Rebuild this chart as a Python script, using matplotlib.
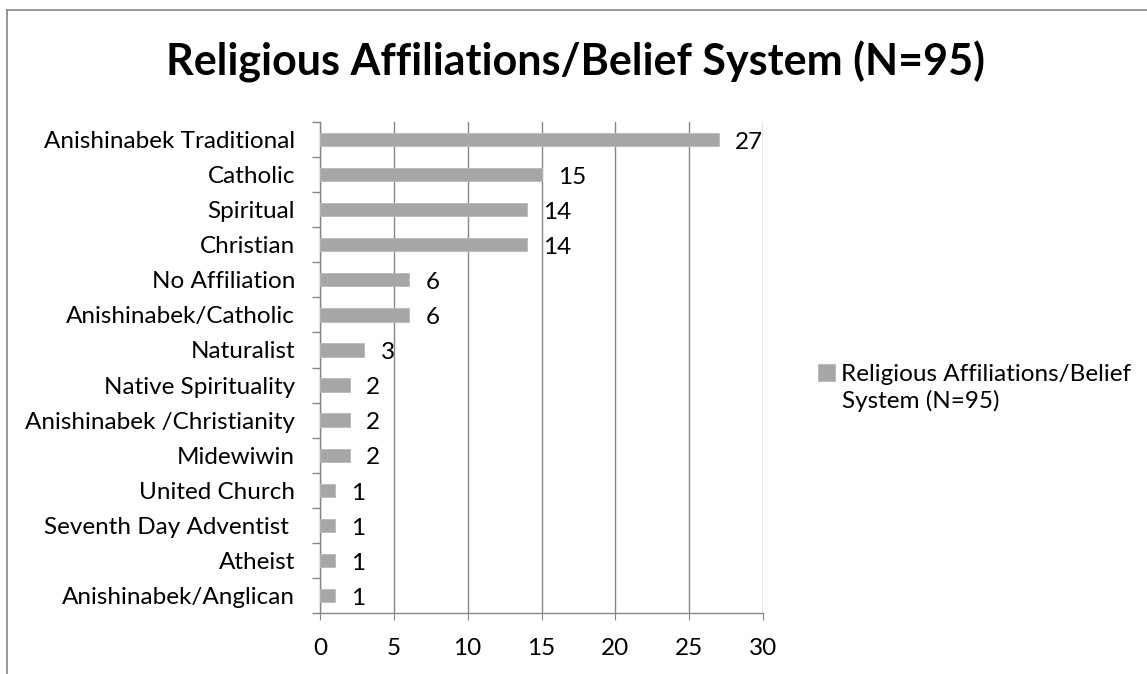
import matplotlib.pyplot as plt
from matplotlib.lines import Line2D
import numpy as np

plt.rcParams['font.family'] = ['Lato', 'DejaVu Sans']

# data, top to bottom as shown
categories = ['Anishinabek Traditional', 'Catholic', 'Spiritual', 'Christian',
              'No Affiliation', 'Anishinabek/Catholic', 'Naturalist',
              'Native Spirituality', 'Anishinabek /Christianity', 'Midewiwin',
              'United Church', 'Seventh Day Adventist ', 'Atheist',
              'Anishinabek/Anglican']
counts = [27, 15, 14, 14, 6, 6, 3, 2, 2, 2, 1, 1, 1, 1]
series_lines = ['Religious Affiliations/Belief', 'System (N=95)']
x_ticks = [0, 5, 10, 15, 20, 25, 30]

bar_col = '#a6a6a6'
axis_col = '#868686'
fs = 17.5

fig = plt.figure(figsize=(11.47, 6.74), dpi=100)
ax = fig.add_axes([320/1147, 1-613/674, 443/1147, 491/674])

ypos = np.arange(len(categories))[::-1]
bars = ax.barh(ypos, counts, height=0.38, color=bar_col, edgecolor='#b8b8b8',
               linewidth=0.6, zorder=3)

for y, v in zip(ypos, counts):
    ax.annotate(str(v), (v, y), xytext=(12, -2), textcoords='offset points',
                ha='left', va='center', fontsize=fs)

ax.set_xlim(0, 30)
ax.set_ylim(-0.5, len(categories) - 0.5)
ax.set_xticks(x_ticks)
ax.set_yticks(ypos)
ax.set_yticklabels(categories)
ax.set_yticks(np.arange(-0.5, len(categories)), minor=True)

ax.xaxis.grid(True, color=axis_col, linewidth=1.0, zorder=0)
ax.set_axisbelow(True)
for s in ['top', 'right']:
    ax.spines[s].set_visible(False)
for s in ['left', 'bottom']:
    ax.spines[s].set_color(axis_col)
    ax.spines[s].set_linewidth(1.0)

ax.tick_params(axis='x', length=5, color=axis_col, pad=13, labelsize=fs)
ax.tick_params(axis='y', which='major', length=0, pad=18, labelsize=fs)
ax.tick_params(axis='y', which='minor', length=6, color=axis_col, width=1.0)

fig.text(575/1147, 1-62/674, 'Religious Affiliations/Belief System (N=95)',
         ha='center', va='center', fontsize=31, fontweight='bold')

# legend: first line carries the swatch, second line wraps below it
fig.legend(handles=[bars], labels=[series_lines[0]],
           loc='upper left', bbox_to_anchor=(808/1147, 1-354/674),
           frameon=False, fontsize=fs, handlelength=0.7, handleheight=0.7,
           handletextpad=0.25, borderaxespad=0)
fig.text(842/1147, 1-401/674, series_lines[1], ha='left', va='center', fontsize=fs)

# outer chart frame (cropped at right and bottom)
fig.add_artist(Line2D([7.5/1147, 1], [1-9.5/674, 1-9.5/674], color=axis_col, lw=1.2))
fig.add_artist(Line2D([7.5/1147, 7.5/1147], [0, 1-9.5/674], color=axis_col, lw=1.2))

fig.savefig('out.png', dpi=100)
